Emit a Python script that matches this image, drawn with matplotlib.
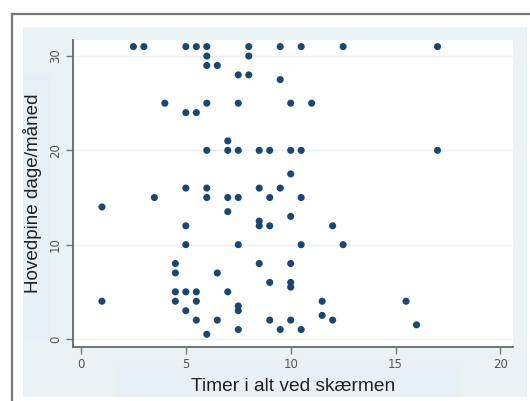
import matplotlib
matplotlib.use("Agg")
import matplotlib.pyplot as plt
from matplotlib.patches import Rectangle
from matplotlib.lines import Line2D

# Data: (screen hours, headache days/month)
timer = [2.5, 3, 5, 5.5, 6, 8, 9.5, 10.5, 12.5, 17,
         6, 8,
         6, 6.5,
         7.5, 8,
         9.5,
         4, 6, 7.5, 10, 11,
         5, 5.5,
         7,
         6, 7, 7.5, 8.5, 9, 10, 10.5, 17,
         10,
         5, 6, 8.5, 9.5,
         3.5, 6, 7, 7.5, 9, 10.5,
         1,
         7,
         10,
         8.5,
         5, 8.5, 9, 12,
         5, 7.5, 10.5, 12.5,
         4.5, 8.5, 10,
         4.5, 6.5,
         9, 10,
         10,
         4.5, 5, 5.5, 7,
         1, 4.5, 5.5, 11.5, 15.5,
         7.5,
         5, 7.5,
         11.5,
         5.5, 6.5, 9, 10, 12,
         16,
         7.5, 9.5, 10.5,
         6]
dage = [31] * 10 + [30] * 2 + [29] * 2 + [28] * 2 + [27.5] + [25] * 5 + [24] * 2 + \
       [21] + [20] * 8 + [17.5] + [16] * 4 + [15] * 6 + [14] + [13.5] + [13] + \
       [12.5] + [12] * 4 + [10] * 4 + [8] * 3 + [7] * 2 + [6] * 2 + [5.5] + \
       [5] * 4 + [4] * 5 + [3.5] + [3] * 2 + [2.5] + [2] * 5 + [1.5] + [1] * 3 + [0.5]

x_ticks = [0, 5, 10, 15, 20]
y_ticks = [0, 10, 20, 30]
x_label = "Timer i alt ved skærmen"
y_label = "Hovedpine dage/måned"

W, H = 530, 401
fig = plt.figure(figsize=(W / 100, H / 100), dpi=100)
fig.patch.set_facecolor("white")

bg = "#EAF2F3"
box = "#E7F0F7"
# graph region background
fig.add_artist(Rectangle((23 / W, 1 - 397 / H), (527 - 23) / W, (397 - 27) / H,
                         transform=fig.transFigure, facecolor=bg, edgecolor="none", zorder=0))
# subtle title boxes
fig.add_artist(Rectangle((117 / W, 1 - 397 / H), (460 - 117) / W, (397 - 367) / H,
                         transform=fig.transFigure, facecolor=box, edgecolor="none", zorder=0))
fig.add_artist(Rectangle((23 / W, 1 - 340 / H), (50 - 23) / W, (340 - 75) / H,
                         transform=fig.transFigure, facecolor=box, edgecolor="none", zorder=0))
# outer frame
fig.add_artist(Line2D([12 / W, 12 / W], [0, 1 - 14 / H], transform=fig.transFigure,
                      color="#777777", lw=1.6, zorder=1))
fig.add_artist(Line2D([12 / W, 1], [1 - 14 / H, 1 - 14 / H], transform=fig.transFigure,
                      color="#777777", lw=1.6, zorder=1))

ax = fig.add_axes([73 / W, 1 - 347 / H, (513 - 73) / W, (347 - 40) / H])
ax.set_facecolor("white")
ax.scatter(timer, dage, s=26, color="#1a476f", edgecolors="none", zorder=3)

ax.set_xlim(-0.38, 20.6)
ax.set_ylim(-0.85, 31.7)
ax.set_xticks(x_ticks)
ax.set_yticks(y_ticks)
ax.yaxis.grid(True, color=bg, lw=1.0, zorder=0)
ax.set_axisbelow(True)

for s in ["top", "right"]:
    ax.spines[s].set_visible(False)
for s in ["left", "bottom"]:
    ax.spines[s].set_color("#666666")
    ax.spines[s].set_linewidth(1.3)

ax.tick_params(axis="both", colors="#777777", length=5, width=1.0, labelsize=8.5,
               labelcolor="#555555", pad=3)
for lab in ax.get_yticklabels():
    lab.set_rotation(90)
    lab.set_va("center")

ax.set_xlabel(x_label, fontsize=13.8, family="Liberation Sans", color="#222222", labelpad=5)
ax.set_ylabel(y_label, fontsize=13.6, family="Liberation Sans", color="#222222", labelpad=5)

fig.savefig("out.png", dpi=100, facecolor="white")
